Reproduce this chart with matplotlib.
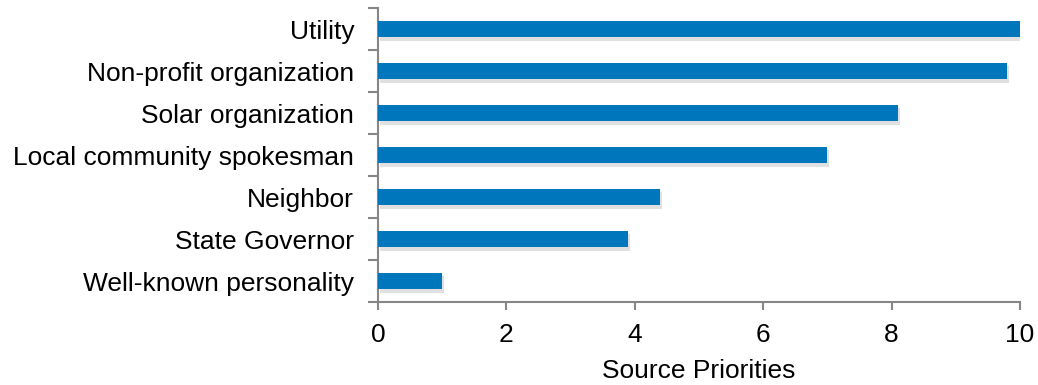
import matplotlib
matplotlib.use("Agg")
import matplotlib.pyplot as plt
import matplotlib.patheffects as pe
import numpy as np

plt.rcParams['font.family'] = ['Liberation Sans', 'DejaVu Sans']

# DATA
sources = ["Utility", "Non-profit organization", "Solar organization",
           "Local community spokesman", "Neighbor", "State Governor",
           "Well-known personality"]
priorities = [10.0, 9.8, 8.1, 7.0, 4.4, 3.9, 1.0]
xticks = [0, 2, 4, 6, 8, 10]

fig = plt.figure(figsize=(10.38, 3.85), dpi=100)
ax = fig.add_axes([0.364, 0.2156, 0.6187, 0.7634])

pos = np.arange(len(sources))[::-1]
bars = ax.barh(pos, priorities, height=0.4, color="#0077BD", zorder=3)
for b in bars:
    b.set_path_effects([pe.SimplePatchShadow(offset=(1.5, -2.5), shadow_rgbFace="#999999", alpha=0.3),
                        pe.Normal()])

ax.set_xlim(0, 10)
ax.set_ylim(-0.5, len(sources) - 0.5)
ax.set_xticks(xticks)
ax.set_yticks(pos)
ax.set_yticklabels(sources)
ax.set_yticks(np.arange(-0.5, len(sources)), minor=True)

grey = "#868686"
for s in ["top", "right"]:
    ax.spines[s].set_visible(False)
for s in ["left", "bottom"]:
    ax.spines[s].set_color(grey)
    ax.spines[s].set_linewidth(1.5)

ax.tick_params(axis="y", which="major", length=0, pad=17, labelsize=19)
ax.tick_params(axis="y", which="minor", length=7, width=1.5, color=grey)
ax.tick_params(axis="x", length=6, width=1.5, color=grey, labelsize=19, pad=9)

ax.set_xlabel("Source Priorities", fontsize=19, labelpad=9)

fig.savefig("out.png", dpi=100)
